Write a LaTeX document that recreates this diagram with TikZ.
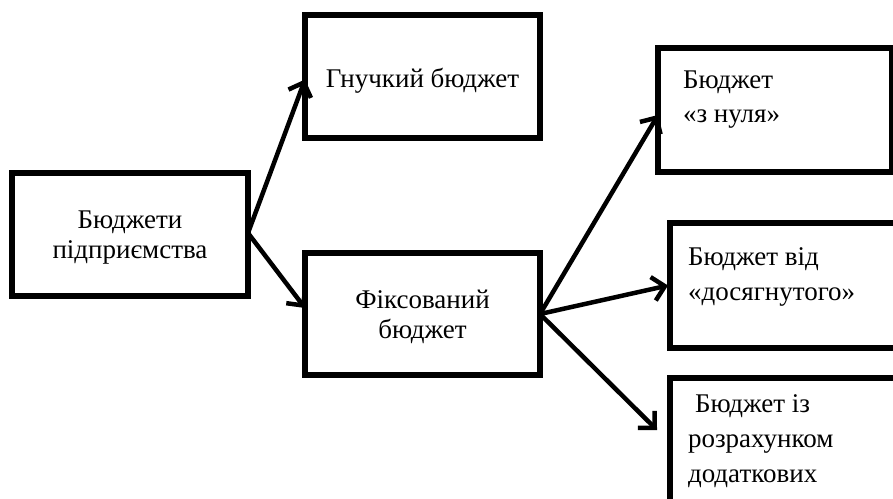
\documentclass[tikz,border=0pt]{standalone}
\usepackage{fontspec}
\setmainfont{Liberation Serif}
\newfontfamily\tnrfont{Liberation Serif}
\usetikzlibrary{arrows.meta}
\begin{document}
\begin{tikzpicture}[x=1pt,y=-1pt,
  box/.style={draw=black, line width=5.5pt, rectangle, inner sep=0pt, outer sep=0pt},
  txt/.style={inner sep=0pt, outer sep=0pt, font=\tnrfont\fontsize{27}{35}\selectfont},
  arr/.style={draw=black, line width=4.5pt, line cap=round, line join=round,
    -{Straight Barb[length=12pt,width=24pt,line width=4.5pt]}}]
\useasboundingbox (0,0) rectangle (893,498);
\clip (0,0) rectangle (893,498);
% boxes
\node[box, minimum width=236pt, minimum height=123pt] (b1) at (130,234.5) {};
\node[box, minimum width=235pt, minimum height=123pt] (b2) at (422.5,76.5) {};
\node[box, minimum width=235pt, minimum height=122pt] (b3) at (422.5,314) {};
\node[box, minimum width=234pt, minimum height=124pt] (b4) at (775,110) {};
\node[box, minimum width=240pt, minimum height=125pt] (b5) at (790,285.5) {};
\node[box, minimum width=240pt, minimum height=140pt] (b6) at (790,448) {};
% texts
\node[txt, anchor=base] (t1a) at (130,228) {Бюджети};
\node[txt, anchor=base] (t1b) at (130,258) {підприємства};
\node[txt, anchor=base] (t2) at (422.5,87) {Гнучкий бюджет};
\node[txt, anchor=base] (t3a) at (422.5,308) {Фіксований};
\node[txt, anchor=base] (t3b) at (422.5,338) {бюджет};
\node[txt, anchor=base west] (t4a) at (683,88) {Бюджет};
\node[txt, anchor=base west] (t4b) at (683,122) {«з нуля»};
\node[txt, anchor=base west] (t5a) at (688,265) {Бюджет від};
\node[txt, anchor=base west] (t5b) at (688,300) {«досягнутого»};
\node[txt, anchor=base west] (t6a) at (695,412) {Бюджет із};
\node[txt, anchor=base west] (t6b) at (688,447) {розрахунком};
\node[txt, anchor=base west] (t6c) at (688,482) {додаткових};
% connectors
\coordinate (s1) at ([yshift=1.5pt]b1.east);
\coordinate (e2) at ([yshift=-3pt]b2.west);
\coordinate (e3) at ([yshift=6pt]b3.west);
\coordinate (s3) at (b3.east);
\coordinate (e4) at ([yshift=-5pt]b4.west);
\coordinate (e6) at (657,430);
\draw[arr] (s1) -- (e2);
\draw[arr] (s1) -- (e3);
\draw[arr] (s3) -- (e4);
\draw[arr] (s3) -- ([xshift=-2pt]b5.west);
\draw[arr] (s3) -- (e6);
\end{tikzpicture}
\end{document}
